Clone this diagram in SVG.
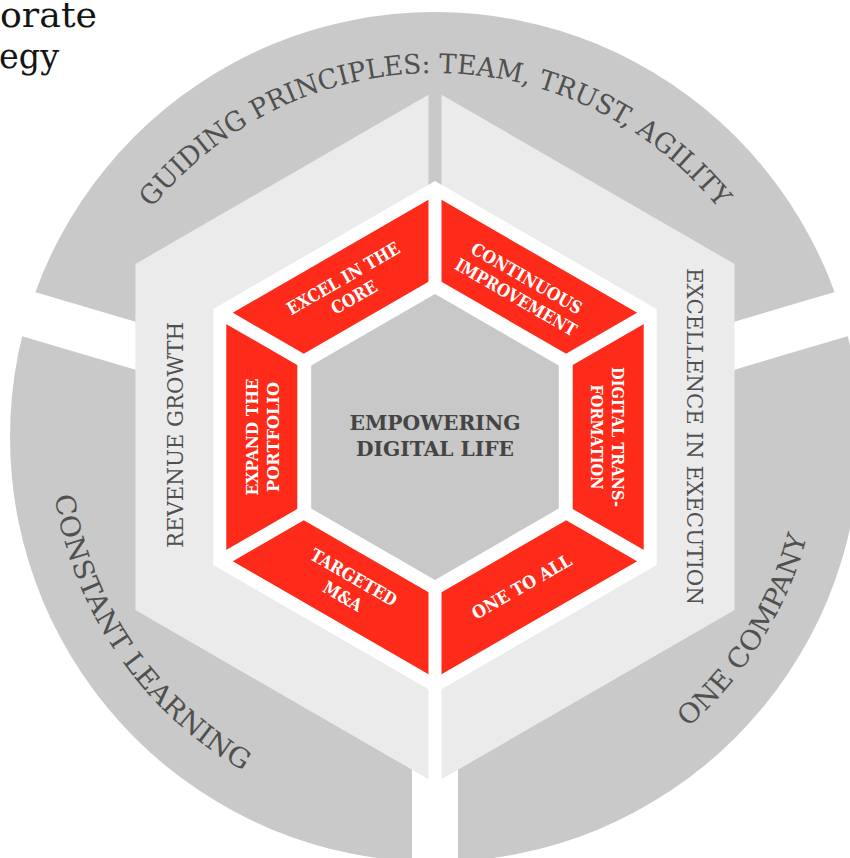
<svg xmlns="http://www.w3.org/2000/svg" width="850" height="858" viewBox="0 0 850 858">
<style>
.ring{fill:#c8c9c8}
.light{fill:#ebebeb}
.red{fill:#fe2a1a}
.core{fill:#c7c8c7}
.wh{fill:#ffffff}
.gap{stroke:#ffffff;fill:none}
.ot{font-family:"DejaVu Serif",serif;font-size:27px;fill:#505050}
.vt{font-family:"DejaVu Serif",serif;font-size:22px;fill:#505050;text-anchor:middle}
.rt{font-family:"DejaVu Serif",serif;font-size:17.5px;font-weight:bold;fill:#ffffff;text-anchor:middle}
.ct{font-family:"DejaVu Serif",serif;font-size:20.5px;font-weight:bold;fill:#444444;text-anchor:middle}
.title{font-family:"DejaVu Serif",serif;font-size:36px;fill:#151515}
</style>
<defs>
<path id="arcTop" d="M 71,437 A 364 364 0 0 1 799,437"/>
<path id="arcCL" d="M 105,238.7 A 385 385 0 0 0 501.9,816.1"/>
<path id="arcOC" d="M 388.1,819.1 A 385 385 0 0 0 757.9,227.3"/>
</defs>

<g id="title">
<text class="title" x="0" y="27" textLength="97" lengthAdjust="spacingAndGlyphs">orate</text>
<text class="title" x="-1" y="68" textLength="60" lengthAdjust="spacingAndGlyphs">egy</text>
</g>

<g id="outer-ring">
<circle class="ring" cx="435" cy="437" r="425"/>
<path class="gap" stroke-width="46" d="M 435,434 L -100,276.2 M 435,434 L 970,276.2 M 435,437 L 435,900"/>
<text class="ot"><textPath href="#arcTop" startOffset="50%" text-anchor="middle" textLength="649" lengthAdjust="spacingAndGlyphs">GUIDING PRINCIPLES: TEAM, TRUST, AGILITY</textPath></text>
<text class="ot"><textPath href="#arcCL" startOffset="50%" text-anchor="middle" textLength="345" lengthAdjust="spacingAndGlyphs">CONSTANT LEARNING</textPath></text>
<text class="ot"><textPath href="#arcOC" startOffset="50%" text-anchor="middle" textLength="228" lengthAdjust="spacingAndGlyphs">ONE COMPANY</textPath></text>
</g>

<g id="revenue-growth">
<polygon class="light" points="428.5,94.75 135.4,264 135.4,610 428.5,779.25"/>
<text class="vt" transform="translate(183,435) rotate(-90)" textLength="226" lengthAdjust="spacingAndGlyphs">REVENUE GROWTH</text>
</g>
<g id="excellence-in-execution">
<polygon class="light" points="441.5,94.75 734.6,264 734.6,610 441.5,779.25"/>
<text class="vt" transform="translate(687,436.5) rotate(90)" textLength="337" lengthAdjust="spacingAndGlyphs">EXCELLENCE IN EXECUTION</text>
</g>

<g id="red-ring">
<polygon class="wh" points="435,181 656.7,309 656.7,565 435,693 213.3,565 213.3,309"/>
<polygon class="red" points="435,196 643.7,316.5 643.7,557.5 435,678 226.3,557.5 226.3,316.5"/>
<path class="gap" stroke-width="13" d="M 435,437 L 435,192 M 435,437 L 647.2,314.5 M 435,437 L 647.2,559.5 M 435,437 L 435,682 M 435,437 L 222.8,559.5 M 435,437 L 222.8,314.5"/>
<polygon class="wh" points="435,278 572.7,357.5 572.7,516.5 435,596 297.3,516.5 297.3,357.5"/>
</g>

<g id="excel-in-the-core" transform="translate(348.5,287.5) rotate(-30)">
<text class="rt" x="0" y="-4.4" textLength="127" lengthAdjust="spacingAndGlyphs">EXCEL IN THE</text>
<text class="rt" x="0" y="17.4" textLength="50" lengthAdjust="spacingAndGlyphs">CORE</text>
</g>
<g id="continuous-improvement" transform="translate(521.5,287.5) rotate(30)">
<text class="rt" x="0" y="-4.4" textLength="125" lengthAdjust="spacingAndGlyphs">CONTINUOUS</text>
<text class="rt" x="0" y="17.4" textLength="137" lengthAdjust="spacingAndGlyphs">IMPROVEMENT</text>
</g>
<g id="digital-transformation" transform="translate(608,437) rotate(90)">
<text class="rt" x="0" y="-4.4" textLength="140" lengthAdjust="spacingAndGlyphs">DIGITAL TRANS-</text>
<text class="rt" x="0" y="17.4" textLength="105" lengthAdjust="spacingAndGlyphs">FORMATION</text>
</g>
<g id="one-to-all" transform="translate(521.5,586.5) rotate(-30)">
<text class="rt" x="0" y="6.4" textLength="112" lengthAdjust="spacingAndGlyphs">ONE TO ALL</text>
</g>
<g id="targeted-ma" transform="translate(348.5,586.5) rotate(30)">
<text class="rt" x="0" y="-4.4" textLength="97" lengthAdjust="spacingAndGlyphs">TARGETED</text>
<text class="rt" x="0" y="17.4" textLength="42" lengthAdjust="spacingAndGlyphs">M&amp;A</text>
</g>
<g id="expand-the-portfolio" transform="translate(262,437) rotate(-90)">
<text class="rt" x="0" y="-4.4" textLength="117" lengthAdjust="spacingAndGlyphs">EXPAND THE</text>
<text class="rt" x="0" y="17.4" textLength="110" lengthAdjust="spacingAndGlyphs">PORTFOLIO</text>
</g>

<g id="empowering-digital-life">
<polygon class="core" points="435,294 558.8,365.5 558.8,508.5 435,580 311.2,508.5 311.2,365.5"/>
<text class="ct" x="435" y="430" textLength="171" lengthAdjust="spacingAndGlyphs">EMPOWERING</text>
<text class="ct" x="435" y="456" textLength="158" lengthAdjust="spacingAndGlyphs">DIGITAL LIFE</text>
</g>
</svg>
